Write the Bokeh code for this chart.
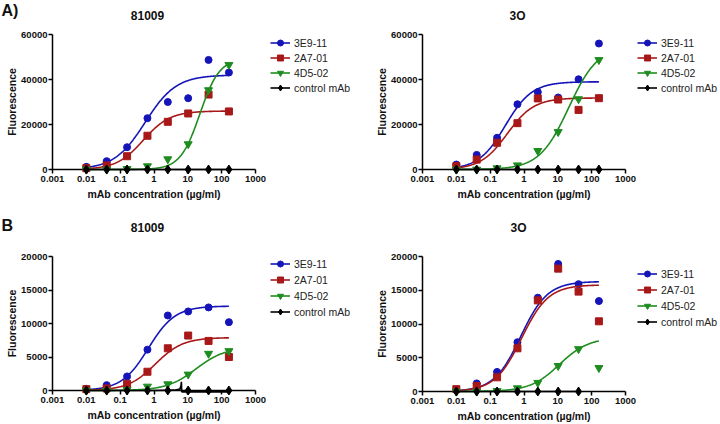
import numpy as np
from bokeh.plotting import figure
from bokeh.models import FixedTicker, Legend, LegendItem, Label, Range1d
from bokeh.layouts import column, row
from bokeh.embed import file_html
from bokeh.resources import INLINE

# ---------------- data ----------------
conc = [0.01, 0.04, 0.16, 0.64, 2.56, 10.24, 40.96, 163.84]
series = ["3E9-11", "2A7-01", "4D5-02", "control mAb"]
x_ticks = [0.001, 0.01, 0.1, 1, 10, 100, 1000]
x_tick_labels = ["0.001", "0.01", "0.1", "1", "10", "100", "1000"]

# A) 81009
a81_3e9 = [1200, 3700, 9900, 22800, 30000, 31700, 48700, 43100]
a81_2a7 = [600, 1800, 5900, 15000, 21200, 24900, 33300, 25800]
a81_4d5 = [0, 0, 300, 1500, 4600, 11300, 35300, 46500]
a81_ctl = [0, 0, 0, 0, 0, 0, 0, 0]
# fitted curves: top, EC50, Hill slope
a81_fit = [(42000, 0.55, 0.95), (26000, 0.48, 1.1), (49400, 22.7, 1.5)]
a81_ctl_fit_x = [0.01, 163.84]
a81_ctl_fit_y = [0, 0]

# A) 3O
a3o_3e9 = [2200, 6500, 14100, 29000, 34400, 32000, 40100, 56000]
a3o_2a7 = [1500, 4400, 11900, 20600, 31600, 31100, 26500, 31700]
a3o_4d5 = [0, 0, 600, 1900, 8300, 16700, 31300, 48700]
a3o_ctl = [0, 0, 0, 0, 0, 0, 0, 0]
a3o_fit = [(39000, 0.28, 1.1), (31800, 0.32, 1.1), (55000, 21.0, 1.0)]
a3o_ctl_fit_x = [0.01, 163.84]
a3o_ctl_fit_y = [0, 0]

# B) 81009
b81_3e9 = [250, 800, 2100, 6100, 11200, 11800, 12400, 10200]
b81_2a7 = [200, 300, 1000, 2800, 6300, 8200, 7400, 5000]
b81_4d5 = [0, 0, 100, 600, 950, 2400, 5500, 5900]
b81_ctl = [0, 0, 0, 0, 0, 0, 0, 0]
b81_fit = [(12600, 0.68, 1.1), (7900, 1.1, 1.07), (6460, 17.5, 1.0)]
b81_ctl_fit_x = [0.01, 1.0, 4.0, 5.8, 6.3, 6.45, 6.6, 10.0, 40.0, 163.84]
b81_ctl_fit_y = [0, 0, 50, 200, 800, 1300, -200, -200, -200, -200]

# B) 3O
b3o_3e9 = [300, 1200, 2900, 7300, 13900, 18900, 15900, 13400]
b3o_2a7 = [350, 800, 2100, 6400, 13500, 18200, 14800, 10400]
b3o_4d5 = [0, 0, 100, 500, 1300, 3800, 6300, 3500]
b3o_ctl = [0, 0, 0, 0, 0, 0, 0, None]
b3o_fit = [(16300, 0.8, 1.1), (15800, 0.85, 1.1), (8000, 11.1, 1.0)]
b3o_ctl_fit_x = [0.01, 40.96]
b3o_ctl_fit_y = [0, 0]

# ---------------- styles ----------------
COLORS = ["#1414B8", "#A81818", "#1E8C1E", "#000000"]
MARKERS = ["circle", "square", "inverted_triangle", "diamond"]
SIZES = [7, 7, 8, 9]
FONT = "Liberation Sans"
AXIS_PX = 203          # pixel length of the 0.001..1000 axis
DECADES = 6


def sigmoid(xs, top, ec50, hill):
    xs = np.asarray(xs, dtype=float)
    return top / (1.0 + (ec50 / xs) ** hill)


def panel(W, H, DL, DT, DB, ymax, yticks, title, title_xy, tag, tag_top,
          leg_x, leg_top, row_h, row_sp, values, fits, ctl_x, ctl_y):
    # whole canvas is the frame; axes are drawn at fixed data locations
    k = AXIS_PX / DECADES
    DR = DL + AXIS_PX
    x0 = 10 ** (-3 - DL / k)
    x1 = 10 ** (3 + (W - DR) / k)
    ypp = ymax / (DB - DT)
    y1 = ymax + DT * ypp
    y0 = -(H - DB) * ypp

    p = figure(width=W, height=H, x_axis_type="log",
               x_range=Range1d(x0, x1), y_range=Range1d(y0, y1),
               output_backend="svg", toolbar_location=None, min_border=0)
    p.title.visible = False
    p.xgrid.grid_line_color = None
    p.ygrid.grid_line_color = None
    p.outline_line_color = None

    for ax in (p.xaxis[0], p.yaxis[0]):
        ax.axis_line_width = 1.5
        ax.axis_line_color = "black"
        ax.major_tick_line_width = 1.5
        ax.major_tick_out = 4
        ax.major_tick_in = 0
        ax.minor_tick_line_color = None
        ax.major_label_text_font = FONT
        ax.major_label_text_font_size = "9.5px"
        ax.major_label_text_font_style = "bold"
        ax.major_label_text_color = "#111111"
        ax.axis_label_text_font = FONT
        ax.axis_label_text_font_size = "10.5px"
        ax.axis_label_text_font_style = "bold"
        ax.axis_label_text_color = "#111111"
        ax.level = "underlay"
    p.xaxis.major_label_standoff = 2
    p.xaxis.axis_label_standoff = 3
    p.yaxis.major_label_standoff = 1
    p.yaxis.axis_label_standoff = 0

    p.xaxis.fixed_location = 0
    p.yaxis.fixed_location = x_ticks[0]
    p.xaxis.bounds = (x_ticks[0], x_ticks[-1])
    p.yaxis.bounds = (0, ymax)
    p.xaxis.ticker = FixedTicker(ticks=x_ticks)
    p.xaxis.major_label_overrides = {t: s for t, s in zip(x_ticks, x_tick_labels)}
    p.xaxis.axis_label = "mAb concentration (\u00b5g/ml)"
    p.yaxis.ticker = FixedTicker(ticks=yticks)
    p.yaxis.axis_label = "Fluorescence"

    xs = np.logspace(np.log10(conc[0]), np.log10(conc[-1]), 240)
    items = []
    for i, name in enumerate(series):
        if i < 3:
            t, e, h = fits[i]
            lr = p.line(xs, sigmoid(xs, t, e, h), line_color=COLORS[i], line_width=1.6)
        else:
            lr = p.line(ctl_x, ctl_y, line_color=COLORS[i], line_width=1.6)
        vals = [np.nan if v is None else v for v in values[i]]
        sr = p.scatter(conc, vals, marker=MARKERS[i], size=SIZES[i],
                       fill_color=COLORS[i], line_color=COLORS[i])
        items.append(LegendItem(label=name, renderers=[lr, sr]))

    leg_h = 4 * row_h + 3 * row_sp
    leg = Legend(items=items, location=(leg_x, H - leg_top - leg_h), margin=0,
                 padding=0, spacing=row_sp, glyph_width=20,
                 glyph_height=row_h, label_height=row_h,
                 label_standoff=4, border_line_color=None,
                 background_fill_alpha=0,
                 label_text_font=FONT, label_text_font_size="10.5px",
                 label_text_color="#222222")
    p.add_layout(leg, "center")

    p.add_layout(Label(x=title_xy[0], y=H - title_xy[1], x_units="screen",
                       y_units="screen", text=title, text_font=FONT,
                       text_font_size="12px", text_font_style="bold",
                       text_align="center", text_baseline="middle",
                       text_color="#111111"))
    if tag:
        p.add_layout(Label(x=1, y=H - tag_top, x_units="screen",
                           y_units="screen", text=tag, text_font=FONT,
                           text_font_size="16px", text_font_style="bold",
                           text_baseline="top", text_color="#111111"))
    return p


a_yt = [0, 20000, 40000, 60000]
b_yt = [0, 5000, 10000, 15000, 20000]

p1 = panel(358, 210, 52, 34, 169, 60000, a_yt, "81009", (147, 15), "A)", 1,
           270, 35, 15, 0, [a81_3e9, a81_2a7, a81_4d5, a81_ctl], a81_fit,
           a81_ctl_fit_x, a81_ctl_fit_y)
p2 = panel(360, 210, 64, 34, 169, 60000, a_yt, "3O", (159, 15), None, 0,
           279, 35, 15, 0, [a3o_3e9, a3o_2a7, a3o_4d5, a3o_ctl], a3o_fit,
           a3o_ctl_fit_x, a3o_ctl_fit_y)
p3 = panel(358, 212, 52, 46, 180, 20000, b_yt, "81009", (147, 17), "B", 6,
           270, 46, 15, 1, [b81_3e9, b81_2a7, b81_4d5, b81_ctl], b81_fit,
           b81_ctl_fit_x, b81_ctl_fit_y)
p4 = panel(360, 212, 64, 46, 181, 20000, b_yt, "3O", (160, 17), None, 0,
           279, 56, 15, 1, [b3o_3e9, b3o_2a7, b3o_4d5, b3o_ctl], b3o_fit,
           b3o_ctl_fit_x, b3o_ctl_fit_y)

layout = column(row(p1, p2), row(p3, p4))
open("out.html", "w").write(file_html(layout, INLINE))
